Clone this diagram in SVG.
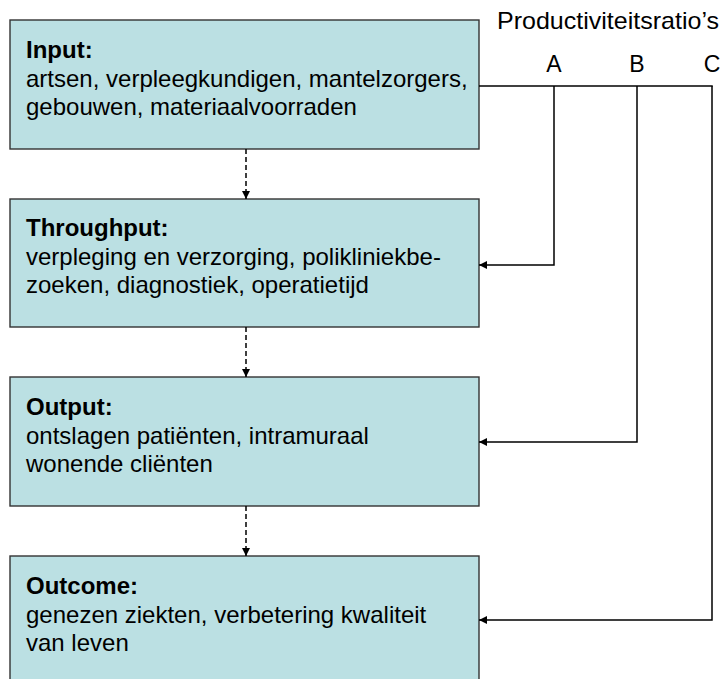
<svg xmlns="http://www.w3.org/2000/svg" width="723" height="679" viewBox="0 0 723 679">
<style>
.box{fill:#BBE0E3;stroke:#333;stroke-width:1.4}
text{font-family:"Liberation Sans",Arial,sans-serif;font-size:24px;fill:#000}
.t{font-weight:bold}
.lbl{font-size:23px}
.dash{fill:none;stroke:#000;stroke-width:1.5;stroke-dasharray:5,3}
.ln{fill:none;stroke:#000;stroke-width:1.5}
</style>
<defs>
<marker id="ah" viewBox="0 0 10 10" refX="10" refY="5" markerWidth="8" markerHeight="8" markerUnits="userSpaceOnUse" orient="auto">
<path d="M0,0 L10,5 L0,10 z" fill="#000"/>
</marker>
</defs>
<g id="input">
<rect class="box" x="10" y="20" width="469" height="129"/>
<text class="t" x="26" y="58">Input:</text>
<text x="26" y="87">artsen, verpleegkundigen, mantelzorgers,</text>
<text x="26" y="115">gebouwen, materiaalvoorraden</text>
</g>
<g id="throughput">
<rect class="box" x="10" y="199" width="469" height="128"/>
<text class="t" x="26" y="236">Throughput:</text>
<text x="26" y="265">verpleging en verzorging, polikliniekbe-</text>
<text x="26" y="293">zoeken, diagnostiek, operatietijd</text>
</g>
<g id="output">
<rect class="box" x="10" y="377" width="469" height="129"/>
<text class="t" x="26" y="415">Output:</text>
<text x="26" y="444">ontslagen patiënten, intramuraal</text>
<text x="26" y="472">wonende cliënten</text>
</g>
<g id="outcome">
<rect class="box" x="10" y="556" width="469" height="130"/>
<text class="t" x="26" y="594">Outcome:</text>
<text x="26" y="623">genezen ziekten, verbetering kwaliteit</text>
<text x="26" y="651">van leven</text>
</g>
<g id="ratios">
<text x="497" y="29" textLength="222" lengthAdjust="spacingAndGlyphs">Productiviteitsratio’s</text>
<text class="lbl" x="554" y="72" text-anchor="middle">A</text>
<text class="lbl" x="637" y="72" text-anchor="middle">B</text>
<text class="lbl" x="712" y="72" text-anchor="middle">C</text>
</g>
<g id="connectors">
<line class="dash" x1="246" y1="149" x2="246" y2="199" marker-end="url(#ah)"/>
<line class="dash" x1="246" y1="327" x2="246" y2="377" marker-end="url(#ah)"/>
<line class="dash" x1="246" y1="506" x2="246" y2="556" marker-end="url(#ah)"/>
<line class="ln" x1="479" y1="86" x2="712.75" y2="86"/>
<polyline class="ln" points="554,86 554,265 479,265" marker-end="url(#ah)"/>
<polyline class="ln" points="637,86 637,442 479,442" marker-end="url(#ah)"/>
<polyline class="ln" points="712,86 712,620 479,620" marker-end="url(#ah)"/>
</g>
</svg>
